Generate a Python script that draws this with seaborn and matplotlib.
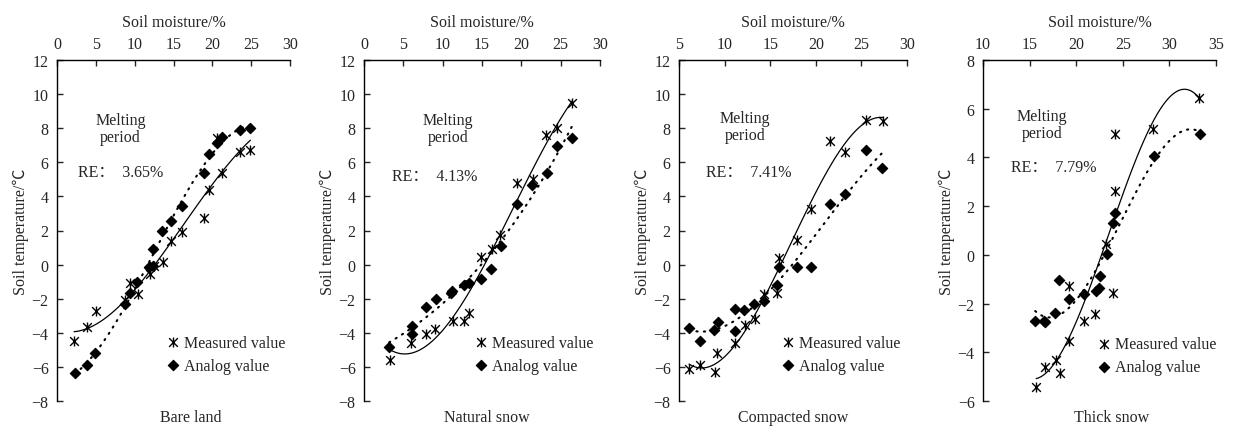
import numpy as np
import pandas as pd
import matplotlib
matplotlib.use("Agg")
import matplotlib.pyplot as plt
from matplotlib.path import Path
import seaborn as sns

# ---------------- data ----------------
panel_names = ["Bare land", "Natural snow", "Compacted snow", "Thick snow"]
re_values = ["3.65%", "4.13%", "7.41%", "7.79%"]

bare_meas_x = [2.2, 3.9, 5.0, 8.8, 9.4, 10.4, 12.0, 12.5, 13.6, 14.7, 16.1, 18.9, 19.6, 20.6, 21.2, 23.5, 24.9]
bare_meas_y = [-4.5, -3.65, -2.75, -2.1, -1.05, -1.75, -0.55, -0.1, 0.13, 1.4, 1.9, 2.76, 4.38, 7.45, 5.4, 6.6, 6.75]
bare_ana_x = [2.3, 3.9, 4.9, 8.8, 9.4, 10.3, 11.9, 12.4, 12.4, 13.5, 14.7, 16.1, 18.9, 19.6, 20.6, 21.2, 23.5, 24.9]
bare_ana_y = [-6.38, -5.89, -5.17, -2.3, -1.65, -1.0, -0.15, -0.08, 0.92, 2.0, 2.55, 3.44, 5.35, 6.5, 7.15, 7.5, 7.9, 8.0]

nat_meas_x = [3.3, 6.0, 7.9, 9.0, 11.3, 12.7, 13.4, 14.9, 16.3, 17.3, 19.5, 21.5, 23.1, 24.5, 26.5]
nat_meas_y = [-5.6, -4.6, -4.05, -3.8, -3.3, -3.3, -2.85, 0.47, 0.9, 1.75, 4.8, 5.0, 7.6, 8.0, 9.45]
nat_ana_x = [3.2, 6.1, 6.1, 7.9, 9.1, 11.0, 11.2, 12.7, 13.4, 14.9, 16.2, 17.4, 19.4, 21.4, 23.2, 24.5, 26.4]
nat_ana_y = [-4.85, -3.6, -4.05, -2.5, -2.0, -1.65, -1.55, -1.2, -1.05, -0.85, -0.27, 1.1, 3.55, 4.65, 5.35, 6.95, 7.45]

comp_meas_x = [6.1, 7.3, 8.9, 9.2, 11.1, 12.2, 13.3, 14.3, 15.7, 16.0, 17.9, 19.5, 21.6, 23.2, 25.5, 27.4]
comp_meas_y = [-6.1, -5.9, -6.3, -5.17, -4.58, -3.56, -3.17, -1.74, -1.64, 0.41, 1.45, 3.25, 7.26, 6.58, 8.5, 8.45]
comp_ana_x = [6.1, 7.3, 8.8, 9.3, 11.1, 11.1, 12.1, 13.2, 14.3, 15.7, 16.0, 17.9, 19.5, 21.6, 23.2, 25.5, 27.3]
comp_ana_y = [-3.7, -4.5, -3.84, -3.37, -2.62, -3.9, -2.66, -2.29, -2.13, -1.21, -0.14, -0.14, -0.14, 3.58, 4.13, 6.73, 5.69]

thick_meas_x = [15.7, 16.6, 17.8, 18.3, 19.2, 19.2, 20.8, 22.0, 23.2, 24.0, 24.2, 24.2, 28.2, 33.2]
thick_meas_y = [-5.44, -4.6, -4.3, -4.85, -3.52, -1.26, -2.7, -2.42, 0.45, -1.56, 2.62, 4.95, 5.15, 6.45]
thick_ana_x = [15.6, 16.5, 16.6, 17.7, 18.2, 19.2, 20.8, 22.1, 22.4, 22.6, 23.3, 23.9, 24.2, 28.3, 33.3]
thick_ana_y = [-2.7, -2.72, -2.75, -2.37, -1.05, -1.8, -1.6, -1.5, -1.35, -0.88, 0.05, 1.3, 1.7, 4.05, 4.95]

x_limits = [(0, 30), (0, 30), (5, 30), (10, 35)]
y_limits = [(-8, 12), (-8, 12), (-8, 12), (-6, 8)]

measured = [(bare_meas_x, bare_meas_y), (nat_meas_x, nat_meas_y),
            (comp_meas_x, comp_meas_y), (thick_meas_x, thick_meas_y)]
analog = [(bare_ana_x, bare_ana_y), (nat_ana_x, nat_ana_y),
          (comp_ana_x, comp_ana_y), (thick_ana_x, thick_ana_y)]

# ---------------- layout ----------------
W, H = 1237, 431
axes_px = [(57, 290), (364, 600), (679, 907), (983, 1216)]
top_px, bot_px = 61, 402
melt_pos = [(0.273, 0.80), (0.357, 0.80), (0.289, 0.805), (0.252, 0.81)]
re_pos = [(0.272, 0.672), (0.30, 0.66), (0.307, 0.672), (0.305, 0.685)]
leg_pos = [(0.47, 0.195), (0.47, 0.195), (0.45, 0.195), (0.49, 0.19)]
name_x = [0.575, 0.52, 0.50, 0.55]

sns.set_style("ticks")
plt.rcParams["font.family"] = ["Liberation Serif", "Noto Sans CJK SC", "DejaVu Serif"]

star = Path([(-1, -1), (1, 1), (-1, 1), (1, -1), (0, -1.15), (0, 1.15)],
            [Path.MOVETO, Path.LINETO, Path.MOVETO, Path.LINETO, Path.MOVETO, Path.LINETO])

fig = plt.figure(figsize=(W / 100, H / 100), dpi=100)
FS = 11.5

for i in range(4):
    l, r = axes_px[i]
    ax = fig.add_axes([l / W, (H - bot_px) / H, (r - l) / W, (bot_px - top_px) / H])
    mx, my = measured[i]
    axx, axy = analog[i]
    dm = pd.DataFrame({"x": mx, "y": my})
    da = pd.DataFrame({"x": axx, "y": axy})

    sns.regplot(data=dm, x="x", y="y", order=3, ci=None, scatter=False, truncate=True,
                ax=ax, line_kws=dict(color="black", lw=0.9))
    sns.regplot(data=da, x="x", y="y", order=3, ci=None, scatter=False, truncate=True,
                ax=ax, line_kws=dict(color="black", lw=1.5, linestyle=(0, (0.6, 3.0)),
                                     dash_capstyle="round"))
    sns.scatterplot(data=dm, x="x", y="y", marker=star, s=52, color="black",
                    edgecolor="black", linewidth=1.0, ax=ax, legend=False,
                    label="Measured value", zorder=3)
    sns.scatterplot(data=da, x="x", y="y", marker="D", s=28, color="black",
                    edgecolor="black", linewidth=0.8, ax=ax, legend=False,
                    label="Analog value", zorder=3)

    ax.set_xlim(*x_limits[i])
    ax.set_ylim(*y_limits[i])
    ax.set_xticks(np.arange(x_limits[i][0], x_limits[i][1] + 1, 5))
    ax.set_yticks(np.arange(y_limits[i][0], y_limits[i][1] + 1, 2))
    ax.xaxis.tick_top()
    ax.xaxis.set_label_position("top")
    for s in ["right", "bottom"]:
        ax.spines[s].set_visible(False)
    for s in ["left", "top"]:
        ax.spines[s].set_linewidth(1.0)
        ax.spines[s].set_color("black")
    ax.tick_params(axis="x", direction="in", length=4, width=1, pad=6, labelsize=FS)
    ax.tick_params(axis="y", direction="in", length=4, width=1, pad=6, labelsize=FS)
    ax.set_xlabel("Soil moisture/%", fontsize=FS, labelpad=7)
    ax.set_ylabel("Soil temperature/℃", fontsize=FS, labelpad=2)

    ax.text(melt_pos[i][0], melt_pos[i][1], "Melting\nperiod", transform=ax.transAxes,
            ha="center", va="center", fontsize=FS, linespacing=1.05)
    ax.text(re_pos[i][0], re_pos[i][1], "RE：  " + re_values[i], transform=ax.transAxes,
            ha="center", va="center", fontsize=FS)
    ax.text(name_x[i], -0.047, panel_names[i], transform=ax.transAxes,
            ha="center", va="center", fontsize=FS)

    ax.legend(loc="upper left", bbox_to_anchor=leg_pos[i], frameon=False, fontsize=FS,
              handlelength=0.8, handletextpad=0.3, borderpad=0, borderaxespad=0,
              labelspacing=0.45)

fig.savefig("out.png", dpi=100)
